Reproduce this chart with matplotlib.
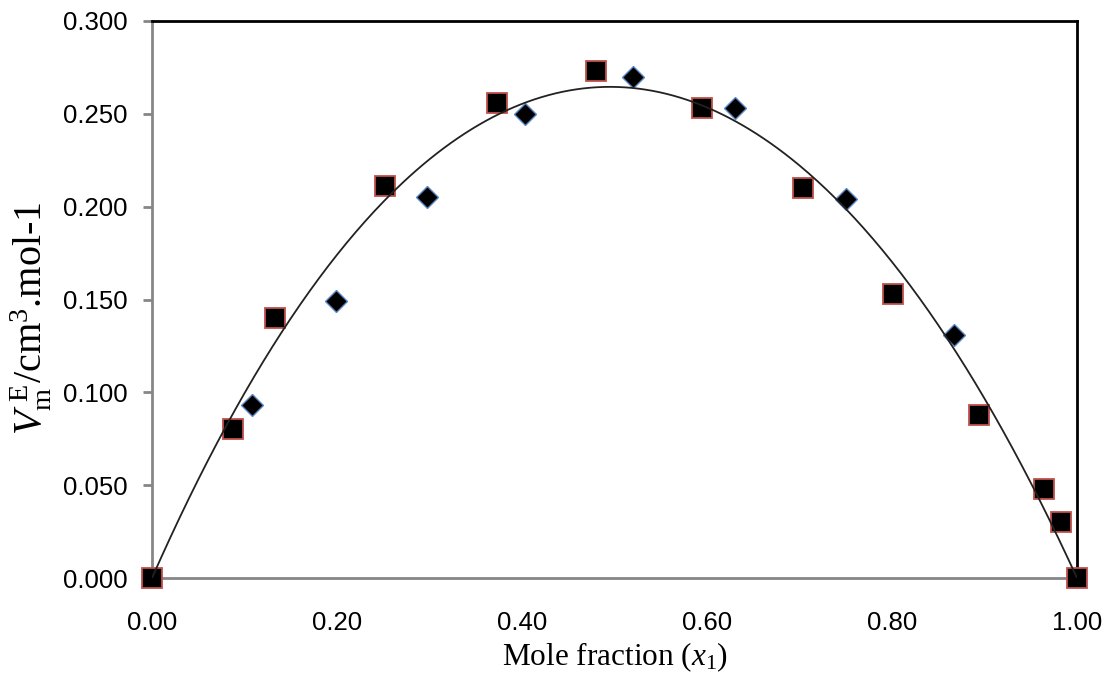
import numpy as np
import matplotlib.pyplot as plt

# excess molar volume data, two sets
x_set1 = [0.0, 0.088, 0.133, 0.252, 0.373, 0.480, 0.595, 0.704, 0.801, 0.894, 0.964, 0.983, 1.0]
v_set1 = [0.000, 0.080, 0.140, 0.211, 0.256, 0.273, 0.253, 0.210, 0.153, 0.088, 0.048, 0.030, 0.000]

x_set2 = [0.108, 0.199, 0.297, 0.403, 0.520, 0.630, 0.750, 0.867]
v_set2 = [0.093, 0.149, 0.205, 0.250, 0.270, 0.253, 0.204, 0.131]

# Redlich-Kister fit coefficients A0, A1, A2
rk_coeffs = [1.058, -0.02, 0.05]

plt.rcParams['mathtext.fontset'] = 'custom'
plt.rcParams['mathtext.rm'] = 'Liberation Serif'
plt.rcParams['mathtext.it'] = 'Liberation Serif:italic'

fig = plt.figure(figsize=(11.11, 6.84), dpi=100)
ax = fig.add_axes([152/1111, 1 - 578/684, (1077 - 152)/1111, (578 - 21)/684])

xf = np.linspace(0, 1, 400)
z = 2*xf - 1
vf = xf*(1 - xf)*sum(a*z**k for k, a in enumerate(rk_coeffs))
ax.plot(xf, vf, color='#222222', linewidth=1.3, zorder=4)

ax.plot(x_set2, v_set2, linestyle='none', marker='D', markersize=11.5,
        markerfacecolor='black', markeredgecolor='#5b8ac6', markeredgewidth=1.0,
        zorder=3, clip_on=False)
ax.plot(x_set1, v_set1, linestyle='none', marker='s', markersize=14,
        markerfacecolor='black', markeredgecolor='#c0504d', markeredgewidth=1.3,
        zorder=3, clip_on=False)

ax.set_xlim(0, 1)
ax.set_ylim(0, 0.3)
ax.set_xticks(np.arange(0, 1.01, 0.2))
ax.set_yticks(np.arange(0, 0.301, 0.05))
ax.set_xticklabels(['%.2f' % v for v in np.arange(0, 1.01, 0.2)])
ax.set_yticklabels(['%.3f' % v for v in np.arange(0, 0.301, 0.05)])

for side in ['left', 'bottom']:
    ax.spines[side].set_color('#868686')
    ax.spines[side].set_linewidth(2)
for side in ['top', 'right']:
    ax.spines[side].set_color('black')
    ax.spines[side].set_linewidth(2)

ax.tick_params(axis='y', direction='out', length=6.5, width=2, color='#868686',
               pad=11, labelsize=18.5)
ax.tick_params(axis='x', length=0, pad=24, labelsize=18.5)
for lab in ax.get_xticklabels() + ax.get_yticklabels():
    lab.set_fontfamily('Liberation Sans')

ax.set_xlabel(r'Mole fraction ($x_1$)', fontsize=22.5, family='Liberation Serif', labelpad=4)
fig.text(31/1111, 1 - 318/684, r'$V_\mathrm{m}^{\ \mathrm{E}}$/cm$^3$.mol-1',
         rotation=90, fontsize=29, family='Liberation Serif', ha='center', va='center')

plt.savefig('out.png', dpi=100)
